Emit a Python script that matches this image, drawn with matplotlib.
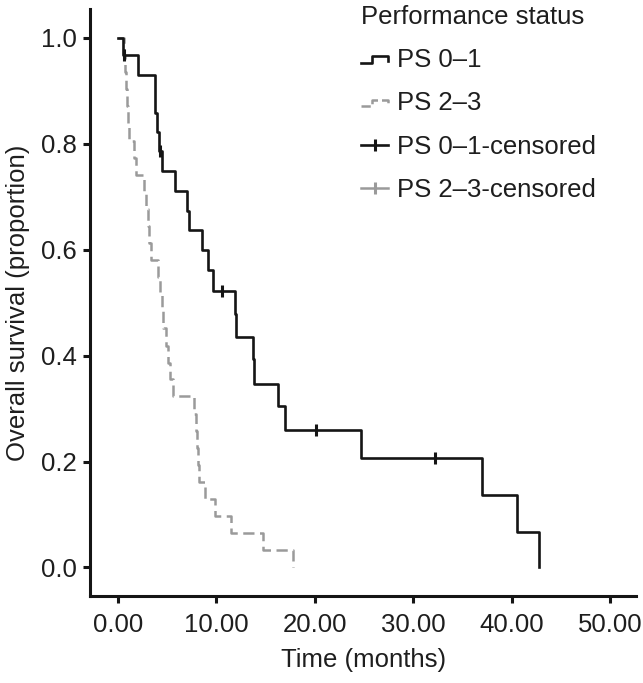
import numpy as np
import matplotlib
matplotlib.use("Agg")
import matplotlib.pyplot as plt
from matplotlib.lines import Line2D
from matplotlib.legend_handler import HandlerBase

# PS 0-1 : event times (months) and survival after each drop
ps01_time = [0, 0.5, 2.0, 3.8, 4.0, 4.2, 4.5, 5.8, 7.0, 7.2, 8.5, 9.1, 9.6,
             11.9, 12.0, 13.7, 13.8, 16.3, 17.0, 24.7, 37.0, 40.5, 42.8]
ps01_surv = [1.0, 0.967, 0.931, 0.858, 0.822, 0.787, 0.749, 0.711, 0.673, 0.637,
             0.599, 0.561, 0.523, 0.479, 0.436, 0.394, 0.347, 0.305, 0.259,
             0.207, 0.136, 0.067, 0.0]
ps01_cens_time = [0.6, 4.3, 10.6, 20.1, 32.2]
ps01_cens_surv = [0.967, 0.787, 0.523, 0.259, 0.207]

# PS 2-3
ps23_time = [0, 0.6, 0.7, 0.8, 0.9, 1.0, 1.1, 1.6, 1.8, 2.6, 2.8, 3.0, 3.1, 3.3,
             4.1, 4.3, 4.5, 4.6, 4.9, 5.1, 5.3, 5.6, 7.7, 7.9, 8.0, 8.1, 8.2,
             8.8, 9.9, 11.5, 14.7, 17.8]
ps23_surv = [1.0, 0.968, 0.935, 0.903, 0.871, 0.839, 0.806, 0.774, 0.742, 0.710,
             0.677, 0.645, 0.613, 0.581, 0.548, 0.516, 0.484, 0.452, 0.419,
             0.387, 0.355, 0.323, 0.290, 0.258, 0.226, 0.194, 0.161, 0.129,
             0.097, 0.065, 0.032, 0.0]

x_ticks = [0, 10, 20, 30, 40, 50]
y_ticks = [0.0, 0.2, 0.4, 0.6, 0.8, 1.0]

black = "#151515"
grey = "#9a9a9a"
txt = "#1e1e1e"

plt.rcParams["font.family"] = ["Liberation Sans", "DejaVu Sans"]
fs = 18.5

fig = plt.figure(figsize=(6.43, 6.83), dpi=100)
ax = fig.add_axes([0.1407, 0.1274, 0.848, 0.8596])

ax.step(ps01_time, ps01_surv, where="post", color=black, lw=1.9, zorder=3)
ax.step(ps23_time, ps23_surv, where="post", color=grey, lw=1.8,
        dashes=(4.5, 2.2), zorder=2)
ax.plot(ps01_cens_time, ps01_cens_surv, ls="none", marker="|", ms=8,
        mew=2.2, color=black, zorder=4)

ax.set_xlim(-2.8, 52.6)
ax.set_ylim(-0.054, 1.055)
ax.set_xticks(x_ticks)
ax.set_xticklabels(["%.2f" % v for v in x_ticks])
ax.set_yticks(y_ticks)
ax.set_yticklabels(["%.1f" % v for v in y_ticks])
ax.tick_params(length=5, width=2.2, color=black, labelsize=fs, labelcolor=txt, pad=5)
ax.tick_params(axis="x", pad=7)
for s in ["top", "right"]:
    ax.spines[s].set_visible(False)
for s in ["left", "bottom"]:
    ax.spines[s].set_linewidth(2.2)
    ax.spines[s].set_color(black)
ax.set_xlabel("Time (months)", fontsize=fs, color=txt, labelpad=8)
ax.set_ylabel("Overall survival (proportion)", fontsize=fs, color=txt, labelpad=8)


class StepKey(HandlerBase):
    def create_artists(self, legend, orig_handle, xdescent, ydescent,
                       width, height, fontsize, trans):
        xs = np.array([0.0, 0.4, 0.4, 1.0, 1.0]) * width - xdescent
        ys = np.array([0.22, 0.22, 0.6, 0.6, 0.32]) * height - ydescent
        ln = Line2D(xs, ys, color=orig_handle.get_color(), lw=orig_handle.get_linewidth(),
                    linestyle=orig_handle.get_linestyle(), transform=trans)
        return [ln]


h1 = Line2D([], [], color=black, lw=1.9)
h2 = Line2D([], [], color=grey, lw=1.8, ls=(0, (2.0, 1.2)))
h3 = Line2D([], [], color=black, lw=1.9, marker="|", ms=9, mew=2.2)
h4 = Line2D([], [], color=grey, lw=1.8, marker="|", ms=9, mew=2.2)
leg = ax.legend([h1, h2, h3, h4],
                ["PS 0\u20131", "PS 2\u20133", "PS 0\u20131-censored", "PS 2\u20133-censored"],
                handler_map={h1: StepKey(), h2: StepKey()},
                title="Performance status", title_fontsize=fs, fontsize=fs,
                frameon=False, loc="upper left", bbox_to_anchor=(0.546, 1.008),
                bbox_transform=fig.transFigure, handlelength=1.05, handletextpad=0.35,
                labelspacing=0.75, borderaxespad=0, alignment="left")
for t in leg.get_texts():
    t.set_color(txt)
leg.get_title().set_color(txt)

fig.savefig("out.png", dpi=100)
